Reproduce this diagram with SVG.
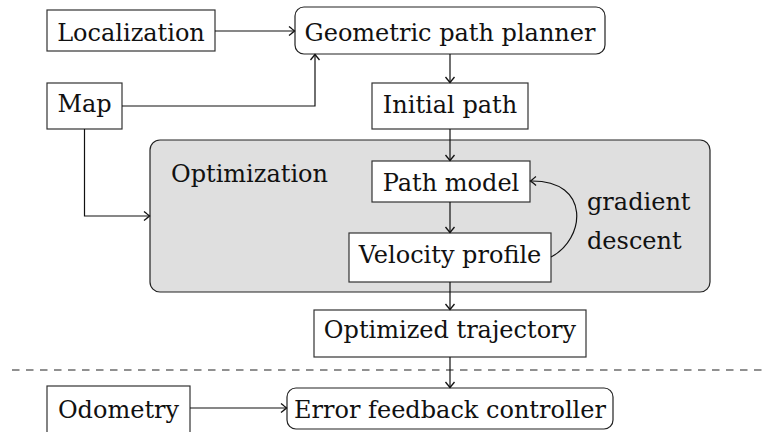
<svg xmlns="http://www.w3.org/2000/svg" width="766" height="432" viewBox="0 0 766 432">
<style>
text{font-family:"DejaVu Serif","Liberation Serif",serif;font-size:24px;fill:#111}
.c{text-anchor:middle}
.box{fill:#fff;stroke:#333;stroke-width:1.2}
.rbox{fill:#fff;stroke:#222;stroke-width:1.2}
.edge{fill:none;stroke:#111;stroke-width:1.2}
</style>
<defs>
<marker id="arr" markerUnits="userSpaceOnUse" markerWidth="14" markerHeight="14" viewBox="-7 -7 14 14" refX="0" refY="0" orient="auto">
<path d="M-5.5,-4.5 Q-1.2,-1 0,0 Q-1.2,1 -5.5,4.5" fill="none" stroke="#111" stroke-width="1.3"/>
</marker>
</defs>
<rect width="766" height="432" fill="#fff"/>
<g id="optimization">
<rect x="150" y="140" width="560" height="152" rx="10" fill="#dfdfdf" stroke="#222" stroke-width="1.2"/>
<text x="171" y="182">Optimization</text>
</g>
<g id="localization"><rect class="box" x="47" y="10" width="168" height="41"/><text class="c" x="131" y="41">Localization</text></g>
<g id="planner"><rect class="rbox" x="295" y="7" width="310" height="47" rx="9"/><text class="c" x="450" y="41">Geometric path planner</text></g>
<g id="map"><rect class="box" x="47" y="83" width="75" height="46"/><text class="c" x="84.5" y="112">Map</text></g>
<g id="initial"><rect class="box" x="372" y="83" width="156" height="46"/><text class="c" x="450" y="113">Initial path</text></g>
<g id="pathmodel"><rect class="box" x="372" y="161" width="158" height="41"/><text class="c" x="451" y="191">Path model</text></g>
<g id="velocity"><rect class="box" x="349" y="233" width="202" height="49"/><text class="c" x="450" y="263">Velocity profile</text></g>
<g id="gdlabel"><text x="587" y="210">gradient</text><text x="587" y="249">descent</text></g>
<g id="optimized"><rect class="box" x="314" y="310" width="272" height="47"/><text class="c" x="450" y="338">Optimized trajectory</text></g>
<g id="odometry"><rect class="box" x="47" y="386" width="143" height="47"/><text class="c" x="118.5" y="418">Odometry</text></g>
<g id="controller"><rect class="rbox" x="287" y="388" width="326" height="41" rx="9"/><text class="c" x="450" y="418">Error feedback controller</text></g>
<g id="connectors">
<line x1="12" y1="370" x2="766" y2="370" stroke="#222" stroke-width="1.1" stroke-dasharray="7.5 6.5"/>
<path class="edge" d="M215,31 H294.5" marker-end="url(#arr)"/>
<path class="edge" d="M122,106 H315 V54.5" marker-end="url(#arr)"/>
<path class="edge" d="M84.5,129 V216 H149.5" marker-end="url(#arr)"/>
<path class="edge" d="M450,54 V82.5" marker-end="url(#arr)"/>
<path class="edge" d="M450,129 V160.5" marker-end="url(#arr)"/>
<path class="edge" d="M450,202 V232.5" marker-end="url(#arr)"/>
<path class="edge" d="M551,257 C585,240 592,180 530.5,181" marker-end="url(#arr)"/>
<path class="edge" d="M450,282 V309.5" marker-end="url(#arr)"/>
<path class="edge" d="M450,357 V387.5" marker-end="url(#arr)"/>
<path class="edge" d="M190,408 H286.5" marker-end="url(#arr)"/>
</g>
</svg>
